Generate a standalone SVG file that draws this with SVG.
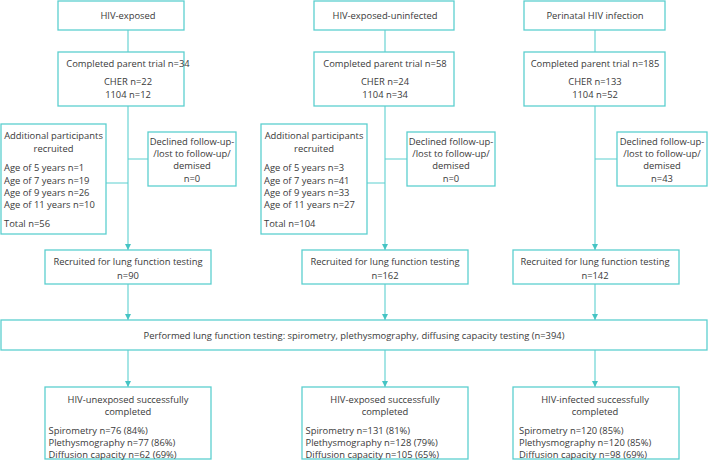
<svg xmlns="http://www.w3.org/2000/svg" width="708" height="469" viewBox="0 0 708 469">
<style>
.box{fill:#fff;stroke:#5ccfcf;stroke-width:1.3}
.ln{fill:none;stroke:#5ccfcf;stroke-width:1.1}
text{font-family:"Open Sans","Noto Sans","Liberation Sans",sans-serif;font-size:9.4px;fill:#3a3a3a}
.c{text-anchor:middle}
</style>
<defs>
<marker id="ah" markerUnits="userSpaceOnUse" markerWidth="8" markerHeight="8" viewBox="0 0 8 8" refX="7" refY="4" orient="auto">
<path d="M1,1 L7,4 L1,7 Z" fill="#45c4c4"/>
</marker>
</defs>
<g id="connectors">
<path class="ln" d="M128,30 V52 M128,159 H148 M106,183 H128"/>
<path class="ln" d="M128,106 V250" marker-end="url(#ah)"/>
<path class="ln" d="M128,284 V320" marker-end="url(#ah)"/>
<path class="ln" d="M128,350 V387" marker-end="url(#ah)"/>
<path class="ln" d="M385,30 V52 M385,159 H407 M367,183 H385"/>
<path class="ln" d="M385,106 V250" marker-end="url(#ah)"/>
<path class="ln" d="M385,284 V320" marker-end="url(#ah)"/>
<path class="ln" d="M385,350 V387" marker-end="url(#ah)"/>
<path class="ln" d="M595,30 V52 M595,159 H617"/>
<path class="ln" d="M595,106 V250" marker-end="url(#ah)"/>
<path class="ln" d="M595,284 V320" marker-end="url(#ah)"/>
<path class="ln" d="M595,350 V387" marker-end="url(#ah)"/>
</g>
<g id="n-hiv-exposed"><rect class="box" x="58" y="1" width="126" height="29"/><text class="c" x="128" y="18.5">HIV-exposed</text></g>
<g id="n-heu"><rect class="box" x="314" y="1" width="140" height="29"/><text class="c" x="385" y="18.5">HIV-exposed-uninfected</text></g>
<g id="n-phiv"><rect class="box" x="524" y="1" width="141" height="29"/><text class="c" x="595" y="18.5">Perinatal HIV infection</text></g>

<g id="n-parent1"><rect class="box" x="58" y="52" width="126" height="54"/><text class="c" x="128" y="66.5">Completed parent trial n=34</text><text class="c" x="128" y="85">CHER n=22</text><text class="c" x="128" y="98">1104 n=12</text></g>
<g id="n-parent2"><rect class="box" x="314" y="52" width="140" height="54"/><text class="c" x="385" y="66.5">Completed parent trial n=58</text><text class="c" x="385" y="85">CHER n=24</text><text class="c" x="385" y="98">1104 n=34</text></g>
<g id="n-parent3"><rect class="box" x="524" y="52" width="141" height="54"/><text class="c" x="595" y="66.5">Completed parent trial n=185</text><text class="c" x="595" y="85">CHER n=133</text><text class="c" x="595" y="98">1104 n=52</text></g>

<g id="n-add1"><rect class="box" x="1" y="124" width="105" height="110"/>
<text class="c" x="53.5" y="139">Additional participants</text><text class="c" x="53.5" y="151.5">recruited</text>
<text x="4" y="171">Age of 5 years n=1</text><text x="4" y="183.5">Age of 7 years n=19</text><text x="4" y="196">Age of 9 years n=26</text><text x="4" y="208">Age of 11 years n=10</text><text x="4" y="227">Total n=56</text></g>
<g id="n-add2"><rect class="box" x="261" y="124" width="106" height="110"/>
<text class="c" x="314" y="139">Additional participants</text><text class="c" x="314" y="151.5">recruited</text>
<text x="264" y="171">Age of 5 years n=3</text><text x="264" y="183.5">Age of 7 years n=41</text><text x="264" y="196">Age of 9 years n=33</text><text x="264" y="208">Age of 11 years n=27</text><text x="264" y="227">Total n=104</text></g>

<g id="n-dec1"><rect class="box" x="148" y="132" width="88" height="54"/><text class="c" x="192" y="144.5">Declined follow-up-</text><text class="c" x="192" y="157">/lost to follow-up/</text><text class="c" x="192" y="169">demised</text><text class="c" x="192" y="181.5">n=0</text></g>
<g id="n-dec2"><rect class="box" x="407" y="132" width="88" height="54"/><text class="c" x="451" y="144.5">Declined follow-up-</text><text class="c" x="451" y="157">/lost to follow-up/</text><text class="c" x="451" y="169">demised</text><text class="c" x="451" y="181.5">n=0</text></g>
<g id="n-dec3"><rect class="box" x="617" y="132" width="90" height="54"/><text class="c" x="662" y="144.5">Declined follow-up-</text><text class="c" x="662" y="157">/lost to follow-up/</text><text class="c" x="662" y="169">demised</text><text class="c" x="662" y="181.5">n=43</text></g>

<g id="n-rec1"><rect class="box" x="45" y="250" width="166" height="34"/><text class="c" x="128" y="264.5">Recruited for lung function testing</text><text class="c" x="128" y="278.5">n=90</text></g>
<g id="n-rec2"><rect class="box" x="302" y="250" width="166" height="34"/><text class="c" x="385" y="264.5">Recruited for lung function testing</text><text class="c" x="385" y="278.5">n=162</text></g>
<g id="n-rec3"><rect class="box" x="513" y="250" width="166" height="34"/><text class="c" x="595" y="264.5">Recruited for lung function testing</text><text class="c" x="595" y="278.5">n=142</text></g>

<g id="n-performed"><rect class="box" x="1" y="320" width="706" height="30"/><text class="c" x="354" y="338.5">Performed lung function testing: spirometry, plethysmography, diffusing capacity testing (n=394)</text></g>

<g id="n-res1"><rect class="box" x="45" y="387" width="166" height="72"/><text class="c" x="128" y="402.5">HIV-unexposed successfully</text><text class="c" x="128" y="414.5">completed</text>
<text x="48.5" y="433.5">Spirometry n=76 (84%)</text><text x="48.5" y="446">Plethysmography n=77 (86%)</text><text x="48.5" y="458">Diffusion capacity n=62 (69%)</text></g>
<g id="n-res2"><rect class="box" x="302" y="387" width="166" height="72"/><text class="c" x="385" y="402.5">HIV-exposed successfully</text><text class="c" x="385" y="414.5">completed</text>
<text x="305.5" y="433.5">Spirometry n=131 (81%)</text><text x="305.5" y="446">Plethysmography n=128 (79%)</text><text x="305.5" y="458">Diffusion capacity n=105 (65%)</text></g>
<g id="n-res3"><rect class="box" x="513" y="387" width="166" height="72"/><text class="c" x="595" y="402.5">HIV-infected successfully</text><text class="c" x="595" y="414.5">completed</text>
<text x="519" y="433.5">Spirometry n=120 (85%)</text><text x="519" y="446">Plethysmography n=120 (85%)</text><text x="519" y="458">Diffusion capacity n=98 (69%)</text></g>
</svg>
